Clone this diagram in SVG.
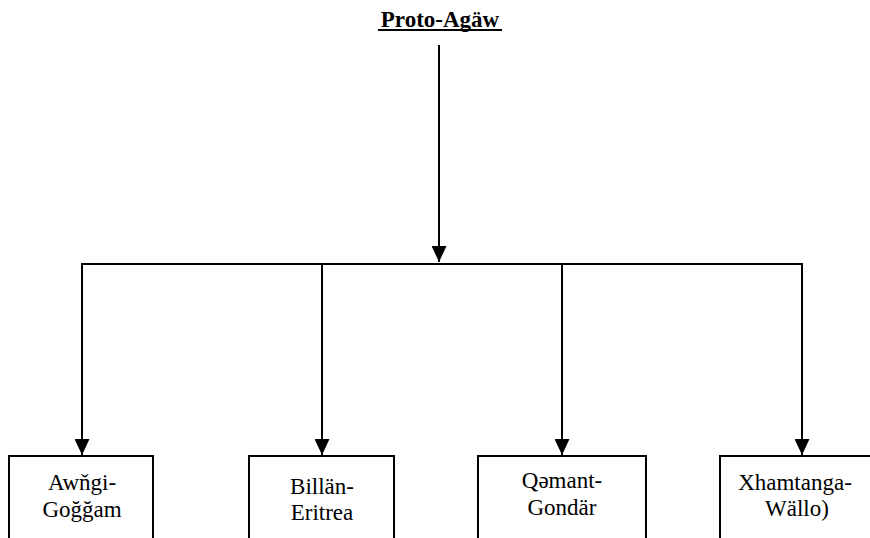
<svg xmlns="http://www.w3.org/2000/svg" width="870" height="538" viewBox="0 0 870 538">
<defs>
<marker id="ah" markerWidth="16" markerHeight="15" refX="16" refY="7.5" orient="auto" markerUnits="userSpaceOnUse" viewBox="0 0 16 15">
<path d="M0,0 L16,7.5 L0,15 Z" fill="#000"/>
</marker>
<style>
.box{fill:#fff;stroke:#000;stroke-width:2}
.lbl{font-size:23px;fill:#000;text-anchor:middle}
.title{font-size:23px;font-weight:bold;fill:#000;text-anchor:middle}
.ln{stroke:#000;stroke-width:2;fill:none}
</style>
</defs>
<rect width="870" height="538" fill="#fff"/>
<g id="root">
<text class="title" x="440" y="27" font-family="'Liberation Serif', serif">Proto-Agäw</text>
<line x1="378" y1="30" x2="502" y2="30" stroke="#000" stroke-width="2"/>
</g>
<g id="connectors">
<line class="ln" x1="439" y1="45" x2="439" y2="262" marker-end="url(#ah)"/>
<line class="ln" x1="81" y1="264" x2="803" y2="264"/>
<line class="ln" x1="82" y1="264" x2="82" y2="455" marker-end="url(#ah)"/>
<line class="ln" x1="322" y1="264" x2="322" y2="455" marker-end="url(#ah)"/>
<line class="ln" x1="562" y1="264" x2="562" y2="455" marker-end="url(#ah)"/>
<line class="ln" x1="802" y1="264" x2="802" y2="455" marker-end="url(#ah)"/>
</g>
<g id="nodes">
<g id="n1">
<rect class="box" x="9" y="456" width="144" height="90"/>
<text class="lbl" x="82" y="490" font-family="'Liberation Serif', serif">Awňgi-</text>
<text class="lbl" x="82" y="517" font-family="'Liberation Serif', serif">Goğğam</text>
</g>
<g id="n2">
<rect class="box" x="249" y="456" width="145" height="90"/>
<text class="lbl" x="322" y="494" font-family="'Liberation Serif', serif">Billän-</text>
<text class="lbl" x="322" y="520" font-family="'Liberation Serif', serif">Eritrea</text>
</g>
<g id="n3">
<rect class="box" x="478" y="456" width="168" height="90"/>
<text class="lbl" x="562" y="488" font-family="'Liberation Serif', serif">Qəmant-</text>
<text class="lbl" x="562" y="515" font-family="'Liberation Serif', serif">Gondär</text>
</g>
<g id="n4">
<rect class="box" x="720" y="456" width="152" height="90"/>
<text class="lbl" x="795" y="490" font-family="'Liberation Serif', serif">Xhamtanga-</text>
<text class="lbl" x="797" y="516" font-family="'Liberation Serif', serif">Wällo)</text>
</g>
</g>
</svg>
